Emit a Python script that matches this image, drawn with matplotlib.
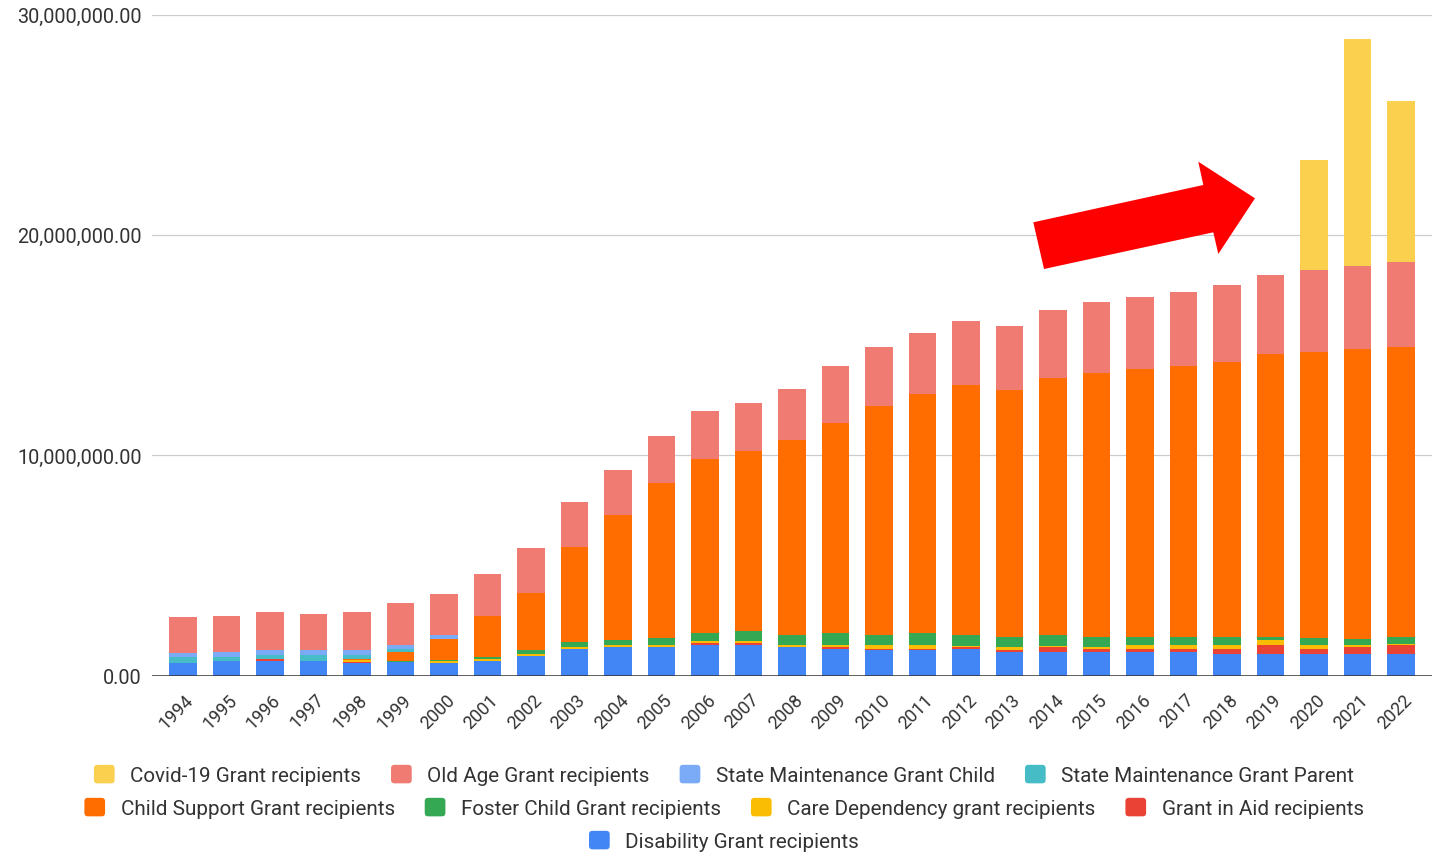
import numpy as np
import matplotlib
matplotlib.use("Agg")
import matplotlib.pyplot as plt
from matplotlib.patches import Polygon, FancyBboxPatch, Patch
from matplotlib.legend_handler import HandlerPatch
from matplotlib.ticker import FuncFormatter
import matplotlib.transforms as mtransforms

plt.rcParams['font.family'] = ['Roboto', 'DejaVu Sans']

years = [str(y) for y in range(1994, 2023)]

# Grant recipients per year, in millions
disability = [0.58, 0.65, 0.65, 0.65, 0.58, 0.61, 0.58, 0.64, 0.88, 1.21,
              1.30, 1.30, 1.38, 1.38, 1.30, 1.21, 1.14, 1.14, 1.21, 1.06,
              1.06, 1.06, 1.06, 1.06, 0.98, 0.98, 0.98, 0.98, 0.98]
grant_in_aid = [0, 0, 0.08, 0, 0.05, 0, 0, 0, 0, 0,
                0, 0, 0.08, 0.08, 0, 0.08, 0.08, 0.08, 0.08, 0.08,
                0.23, 0.15, 0.15, 0.15, 0.23, 0.39, 0.23, 0.30, 0.39]
care_dependency = [0, 0, 0, 0, 0.06, 0, 0.06, 0.09, 0.08, 0.09,
                   0.08, 0.08, 0.09, 0.09, 0.08, 0.09, 0.17, 0.17, 0.05, 0.15,
                   0.05, 0.08, 0.17, 0.17, 0.17, 0.23, 0.17, 0.09, 0.08]
foster_child = [0, 0, 0, 0, 0, 0.05, 0.06, 0.09, 0.18, 0.21,
                0.21, 0.30, 0.39, 0.47, 0.45, 0.54, 0.47, 0.54, 0.51, 0.47,
                0.51, 0.47, 0.38, 0.38, 0.38, 0.15, 0.30, 0.30, 0.30]
child_support = [0, 0, 0, 0, 0.05, 0.41, 0.96, 1.88, 2.60, 4.34,
                 5.69, 7.08, 7.87, 8.17, 8.84, 9.53, 10.38, 10.85, 11.33, 11.20,
                 11.65, 11.97, 12.15, 12.27, 12.45, 12.83, 13.00, 13.15, 13.15]
smg_parent = [0.26, 0.18, 0.18, 0.26, 0.18, 0.15, 0, 0, 0, 0,
              0, 0, 0, 0, 0, 0, 0, 0, 0, 0,
              0, 0, 0, 0, 0, 0, 0, 0, 0]
smg_child = [0.17, 0.23, 0.23, 0.23, 0.23, 0.17, 0.18, 0, 0, 0,
             0, 0, 0, 0, 0, 0, 0, 0, 0, 0,
             0, 0, 0, 0, 0, 0, 0, 0, 0]
old_age = [1.63, 1.65, 1.72, 1.65, 1.72, 1.89, 1.88, 1.92, 2.04, 2.04,
           2.04, 2.13, 2.18, 2.19, 2.35, 2.60, 2.69, 2.77, 2.92, 2.91,
           3.07, 3.24, 3.28, 3.40, 3.53, 3.62, 3.71, 3.78, 3.87]
covid = [0, 0, 0, 0, 0, 0, 0, 0, 0, 0,
         0, 0, 0, 0, 0, 0, 0, 0, 0, 0,
         0, 0, 0, 0, 0, 0, 5.01, 10.29, 7.31]

# Stacked bottom-to-top
series = [
    ("Disability Grant recipients", disability, "#4285F4"),
    ("Grant in Aid recipients", grant_in_aid, "#EA4335"),
    ("Care Dependency grant recipients", care_dependency, "#FBBC04"),
    ("Foster Child Grant recipients", foster_child, "#34A853"),
    ("Child Support Grant recipients", child_support, "#FF6D01"),
    ("State Maintenance Grant Parent", smg_parent, "#46BDC6"),
    ("State Maintenance Grant Child", smg_child, "#7BAAF7"),
    ("Old Age Grant recipients", old_age, "#F07B72"),
    ("Covid-19 Grant recipients", covid, "#FCD04F"),
]

W, H = 1432, 854
fig = plt.figure(figsize=(W / 100, H / 100), dpi=100)
ax_left, ax_right = 152, 1432
ax_bottom_px, ax_top_px = 676.5, 15.6
ax = fig.add_axes([ax_left / W, 1 - ax_bottom_px / H,
                   (ax_right - ax_left) / W, (ax_bottom_px - ax_top_px) / H])

x = np.arange(len(years))
bottom = np.zeros(len(years))
colors = {}
for name, vals, col in series:
    v = np.array(vals) * 1e6
    ax.bar(x, v, bottom=bottom, width=0.63, color=col, linewidth=0, zorder=3)
    bottom += v
    colors[name] = col

ax.set_xlim(-0.7126, 28.71)
ax.set_ylim(0, 30e6)
ax.set_yticks([0, 10e6, 20e6, 30e6])
ax.yaxis.set_major_formatter(FuncFormatter(lambda v, p: f"{v:,.2f}"))
ax.grid(axis='y', color='#cccccc', linewidth=0.9, zorder=0)
ax.axhline(0, color='#333333', linewidth=1.1, zorder=4)
for s in ax.spines.values():
    s.set_visible(False)
ax.tick_params(axis='y', length=0, pad=7.2, labelsize=14.3, labelcolor='#333333')
ax.tick_params(axis='x', length=0, pad=15, labelsize=13, labelcolor='#333333')
ax.set_xticks(x)
ax.set_xticklabels(years, rotation=45, ha='right', va='center',
                   rotation_mode='anchor')
offset = mtransforms.ScaledTranslation(8 / 100, 0, fig.dpi_scale_trans)
for lbl in ax.get_xticklabels():
    lbl.set_transform(lbl.get_transform() + offset)


class RoundHandler(HandlerPatch):
    def create_artists(self, legend, orig_handle, xdescent, ydescent,
                       width, height, fontsize, trans):
        p = FancyBboxPatch((-xdescent + 1.5, -ydescent + 1.5), width - 3, height - 3,
                           boxstyle="round,pad=1.5,rounding_size=2.5",
                           facecolor=orig_handle.get_facecolor(),
                           edgecolor='none', transform=trans)
        return [p]


rows = [
    ["Covid-19 Grant recipients", "Old Age Grant recipients",
     "State Maintenance Grant Child", "State Maintenance Grant Parent"],
    ["Child Support Grant recipients", "Foster Child Grant recipients",
     "Care Dependency grant recipients", "Grant in Aid recipients"],
    ["Disability Grant recipients"],
]
row_y = [776, 809, 842]
for names, ypx in zip(rows, row_y):
    handles = [Patch(facecolor=colors[n]) for n in names]
    fig.legend(handles, names, loc='center', bbox_to_anchor=(724 / W, 1 - ypx / H),
               ncol=len(names), frameon=False, fontsize=14.9,
               labelcolor='#333333', handlelength=1.0, handleheight=1.0,
               handletextpad=0.75, columnspacing=1.45, borderpad=0,
               borderaxespad=0, handler_map={Patch: RoundHandler()})

# Red arrow pointing at the Covid-19 years
arrow_px = [(1033.3, 223.3), (1203.3, 186.0), (1198.3, 162.7), (1255.0, 199.3),
            (1218.3, 255.0), (1213.3, 233.3), (1044.0, 270.0)]
arrow = Polygon([(px / W, 1 - py / H) for px, py in arrow_px], closed=True,
                facecolor='#FF0000', edgecolor='none', transform=fig.transFigure,
                zorder=10)
fig.patches.append(arrow)

fig.savefig("out.png", dpi=100)
